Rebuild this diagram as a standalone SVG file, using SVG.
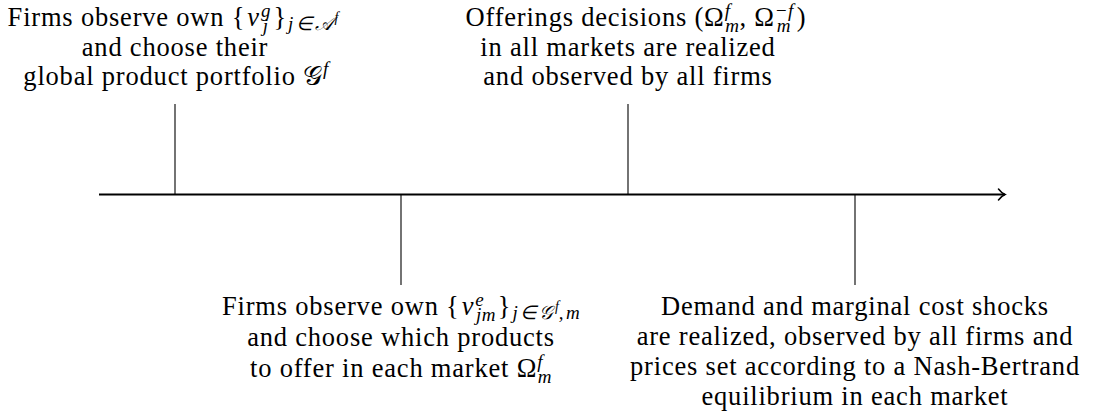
<svg xmlns="http://www.w3.org/2000/svg" width="1094" height="418" viewBox="0 0 1094 418">
<style>
text{fill:#000;text-anchor:middle}
.it{font-style:italic}
.s{font-size:19px;font-style:italic;letter-spacing:0.4px}
.ss{font-size:14px;font-style:italic;letter-spacing:0}
.tick{stroke:#000;stroke-width:1.1;fill:none}
.axis{stroke:#000;stroke-width:1.8;fill:none}
</style>
<defs>
<marker id="arr" markerWidth="12" markerHeight="14" refX="9" refY="7" orient="auto" markerUnits="userSpaceOnUse">
<path d="M2.5,1.5 Q5.5,5.5 9,7 Q5.5,8.5 2.5,12.5" fill="none" stroke="#000" stroke-width="1.5" stroke-linecap="round"/>
</marker>
</defs>
<g id="connectors">
<line class="axis" x1="99" y1="194.5" x2="1005" y2="194.5" marker-end="url(#arr)"/>
<line class="tick" x1="175" y1="104" x2="175" y2="194.5"/>
<line class="tick" x1="628" y1="104" x2="628" y2="194.5"/>
<line class="tick" x1="401" y1="194.5" x2="401" y2="285"/>
<line class="tick" x1="855" y1="194.5" x2="855" y2="285"/>
</g>
<g font-family="Liberation Serif" font-size="26.5" letter-spacing="0.8">
<g id="event1">
<text x="173" y="26">Firms observe own {<tspan class="it" dx="2">ν</tspan><tspan class="s" dx="1" dy="-9">g</tspan><tspan class="s" dx="-8" dy="15">j</tspan><tspan dx="5" dy="-6">}</tspan><tspan class="s" dx="1" dy="4">j</tspan><tspan class="s" dx="2">∈</tspan><tspan class="s" dx="2">𝒜</tspan><tspan class="ss" dx="1" dy="-8">f</tspan></text>
<text x="175" y="55.5">and choose their</text>
<text x="176" y="85">global product portfolio 𝒢<tspan class="s" dy="-10">f</tspan></text>
</g>
<g id="event2">
<text x="636" y="26">Offerings decisions (Ω<tspan class="s" dy="-9">f</tspan><tspan class="s" dx="-5" dy="15">m</tspan><tspan dy="-6">, Ω</tspan><tspan class="s" dy="-9">−f</tspan><tspan class="s" dx="-17" dy="15">m</tspan><tspan dx="6" dy="-6">)</tspan></text>
<text x="628" y="55.5">in all markets are realized</text>
<text x="628" y="85">and observed by all firms</text>
</g>
<g id="event3">
<text x="401" y="315">Firms observe own {<tspan class="it" dx="2">ν</tspan><tspan class="s" dx="1" dy="-9">e</tspan><tspan class="s" dx="-8" dy="15">jm</tspan><tspan dx="2" dy="-6">}</tspan><tspan class="s" dx="1" dy="4">j</tspan><tspan class="s" dx="2">∈</tspan><tspan class="s" dx="2">𝒢</tspan><tspan class="ss" dx="1" dy="-8">f</tspan><tspan class="s" dy="8">,</tspan><tspan class="s" dx="2">m</tspan></text>
<text x="401" y="345.5">and choose which products</text>
<text x="401" y="377">to offer in each market Ω<tspan class="s" dy="-9">f</tspan><tspan class="s" dx="-5" dy="15">m</tspan></text>
</g>
<g id="event4">
<text x="855" y="315">Demand and marginal cost shocks</text>
<text x="855" y="345">are realized, observed by all firms and</text>
<text x="855" y="375">prices set according to a Nash-Bertrand</text>
<text x="855" y="405">equilibrium in each market</text>
</g>
</g>
</svg>
